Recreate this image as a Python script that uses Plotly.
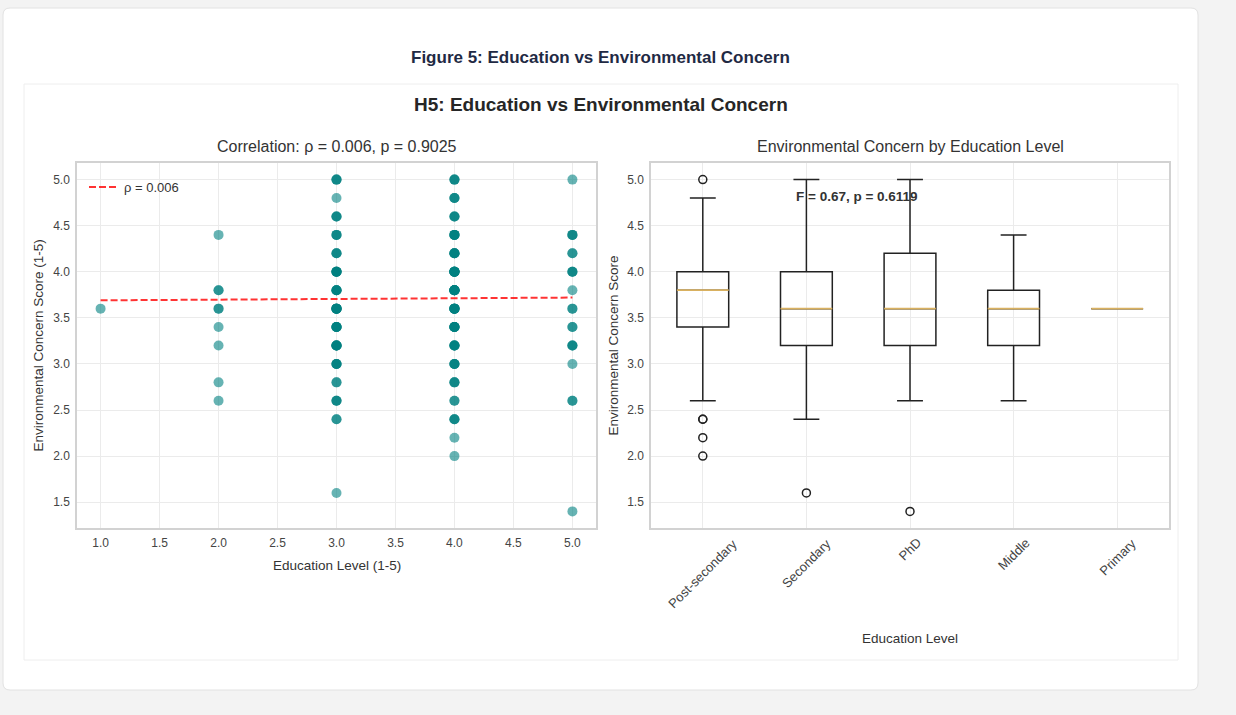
import plotly.graph_objects as go

# ---------------- data ----------------
# Scatter: education level (1-5) vs environmental concern score, with point multiplicity
level_x = [1, 2, 3, 4, 5]
level1_scores = [3.6]
level1_counts = [1]
level2_scores = [4.4, 3.8, 3.6, 3.4, 3.2, 2.8, 2.6]
level2_counts = [1, 2, 2, 1, 1, 1, 1]
level3_scores = [5.0, 4.8, 4.6, 4.4, 4.2, 4.0, 3.8, 3.6, 3.4, 3.2, 3.0, 2.8, 2.6, 2.4, 1.6]
level3_counts = [3, 1, 3, 3, 3, 6, 5, 8, 6, 6, 4, 2, 3, 2, 1]
level4_scores = [5.0, 4.8, 4.6, 4.4, 4.2, 4.0, 3.8, 3.6, 3.4, 3.2, 3.0, 2.8, 2.6, 2.4, 2.2, 2.0]
level4_counts = [3, 3, 3, 5, 5, 9, 10, 8, 7, 5, 4, 3, 2, 3, 1, 1]
level5_scores = [5.0, 4.4, 4.2, 4.0, 3.8, 3.6, 3.4, 3.2, 3.0, 2.6, 1.4]
level5_counts = [1, 3, 2, 3, 1, 2, 2, 3, 1, 2, 1]

# regression (trend) line
trend_x = [1.0, 5.0]
trend_y = [3.69, 3.72]
rho_label = "ρ = 0.006"

# Box plot statistics by education level
box_labels = ["Post-secondary", "Secondary", "PhD", "Middle", "Primary"]
box_pos = [1, 2, 3, 4, 5]
box_q1 = [3.4, 3.2, 3.2, 3.2, 3.6]
box_median = [3.8, 3.6, 3.6, 3.6, 3.6]
box_q3 = [4.0, 4.0, 4.2, 3.8, 3.6]
box_low = [2.6, 2.4, 2.6, 2.6, 3.6]
box_high = [4.8, 5.0, 5.0, 4.4, 3.6]
outlier_pos = [1, 1, 1, 1, 1, 2, 3]
outlier_val = [5.0, 2.4, 2.4, 2.2, 2.0, 1.6, 1.4]

yticks = [1.5, 2.0, 2.5, 3.0, 3.5, 4.0, 4.5, 5.0]
xticks_left = [1.0, 1.5, 2.0, 2.5, 3.0, 3.5, 4.0, 4.5, 5.0]

page_title = "Figure 5: Education vs Environmental Concern"
sup_title = "H5: Education vs Environmental Concern"
left_title = "Correlation: ρ = 0.006, p = 0.9025"
right_title = "Environmental Concern by Education Level"
anova_text = "F = 0.67, p = 0.6119"

# ---------------- layout helpers ----------------
W, H = 1236, 715
FONT = "Liberation Sans, Arial, Helvetica, sans-serif"


def px(x):
    return x / W


def py(y):
    return 1 - y / H


fig = go.Figure()

# scatter points (expanded by multiplicity so alpha accumulates)
all_scores = [level1_scores, level2_scores, level3_scores, level4_scores, level5_scores]
all_counts = [level1_counts, level2_counts, level3_counts, level4_counts, level5_counts]
sx, sy = [], []
for lx, scores, counts in zip(level_x, all_scores, all_counts):
    for s, c in zip(scores, counts):
        for _ in range(c):
            sx.append(lx)
            sy.append(s)

fig.add_trace(go.Scatter(
    x=sx, y=sy, mode="markers", xaxis="x", yaxis="y", showlegend=False,
    marker=dict(color="#008080", size=10, opacity=0.6, line=dict(width=0)),
    hoverinfo="skip"))

fig.add_trace(go.Scatter(
    x=trend_x, y=trend_y, mode="lines", xaxis="x", yaxis="y", name=rho_label,
    line=dict(color="rgba(255,0,0,0.8)", width=2, dash="7px,3px")))

# box plot
fig.add_trace(go.Box(
    x=box_pos, q1=box_q1, median=box_median, q3=box_q3,
    lowerfence=box_low, upperfence=box_high,
    xaxis="x2", yaxis="y2", width=0.5, whiskerwidth=0.5,
    line=dict(color="#222222", width=1.5), fillcolor="rgba(0,0,0,0)",
    boxpoints=False, showlegend=False, hoverinfo="skip"))

# median lines
mx, my = [], []
for p, m in zip(box_pos, box_median):
    mx += [p - 0.25, p + 0.25, None]
    my += [m, m, None]
fig.add_trace(go.Scatter(
    x=mx, y=my, mode="lines", xaxis="x2", yaxis="y2", showlegend=False,
    line=dict(color="#d9b160", width=1.8), hoverinfo="skip"))

# outliers
fig.add_trace(go.Scatter(
    x=outlier_pos, y=outlier_val, mode="markers", xaxis="x2", yaxis="y2",
    showlegend=False, hoverinfo="skip",
    marker=dict(symbol="circle-open", size=8, color="#222222", line=dict(width=1.5, color="#222222"))))

axis_common = dict(
    showgrid=True, gridcolor="#ebebeb", gridwidth=1,
    showline=True, mirror=True, linecolor="#d2d2d2", linewidth=1.5,
    zeroline=False, ticks="outside", ticklen=3, tickcolor="rgba(0,0,0,0)",
    tickfont=dict(family=FONT, size=12, color="#444444"))

fig.update_layout(
    width=W, height=H,
    margin=dict(l=0, r=0, t=0, b=0),
    paper_bgcolor="#f3f3f3", plot_bgcolor="#ffffff",
    font=dict(family=FONT, color="#333333"),
    xaxis=dict(domain=[px(77), px(596)], range=[0.8, 5.2], tickvals=xticks_left,
               ticktext=[f"{v:.1f}" for v in xticks_left], anchor="y", **axis_common),
    yaxis=dict(domain=[py(528), py(163)], range=[1.22, 5.18], tickvals=yticks,
               ticktext=[f"{v:.1f}" for v in yticks], anchor="x", **axis_common),
    xaxis2=dict(domain=[px(651), px(1169)], range=[0.5, 5.5], tickvals=box_pos,
                showticklabels=False, anchor="y2", **axis_common),
    yaxis2=dict(domain=[py(528), py(163)], range=[1.22, 5.18], tickvals=yticks,
                ticktext=[f"{v:.1f}" for v in yticks], anchor="x2", **axis_common),
    legend=dict(x=px(84), y=py(172), xanchor="left", yanchor="top",
                bgcolor="rgba(0,0,0,0)", borderwidth=0,
                font=dict(family=FONT, size=13, color="#333333")),
    showlegend=True,
)


def rounded_rect(x0, y0, x1, y1, r):
    rx, ry = r / W, r / H
    X0, X1 = px(x0), px(x1)
    Y0, Y1 = py(y0), py(y1)  # Y0 top (larger), Y1 bottom
    return (f"M {X0+rx},{Y0} L {X1-rx},{Y0} Q {X1},{Y0} {X1},{Y0-ry} "
            f"L {X1},{Y1+ry} Q {X1},{Y1} {X1-rx},{Y1} "
            f"L {X0+rx},{Y1} Q {X0},{Y1} {X0},{Y1+ry} "
            f"L {X0},{Y0-ry} Q {X0},{Y0} {X0+rx},{Y0} Z")


fig.add_shape(type="path", path=rounded_rect(3, 8, 1198, 690, 7), xref="paper", yref="paper",
              fillcolor="#ffffff", line=dict(color="#e2e2e2", width=1), layer="below")
fig.add_shape(type="rect", x0=px(24), x1=px(1178), y0=py(660), y1=py(84), xref="paper", yref="paper",
              fillcolor="#ffffff", line=dict(color="#eeeeee", width=1), layer="below")

ann = []
ann.append(dict(text=f"<b>{page_title}</b>", x=px(600), y=py(57), xref="paper", yref="paper",
                showarrow=False, font=dict(family=FONT, size=17, color="#1f2a44"),
                xanchor="center", yanchor="middle"))
ann.append(dict(text=f"<b>{sup_title}</b>", x=px(601), y=py(104), xref="paper", yref="paper",
                showarrow=False, font=dict(family=FONT, size=19, color="#262626"),
                xanchor="center", yanchor="middle"))
ann.append(dict(text=left_title, x=px(336.5), y=py(147), xref="paper", yref="paper",
                showarrow=False, font=dict(family=FONT, size=16, color="#333333"),
                xanchor="center", yanchor="middle"))
ann.append(dict(text=right_title, x=px(910), y=py(147), xref="paper", yref="paper",
                showarrow=False, font=dict(family=FONT, size=16, color="#333333"),
                xanchor="center", yanchor="middle"))
ann.append(dict(text="Education Level (1-5)", x=px(336.5), y=py(565), xref="paper", yref="paper",
                showarrow=False, font=dict(family=FONT, size=13.5, color="#333333"),
                xanchor="center", yanchor="middle"))
ann.append(dict(text="Education Level", x=px(910), y=py(638), xref="paper", yref="paper",
                showarrow=False, font=dict(family=FONT, size=13.5, color="#333333"),
                xanchor="center", yanchor="middle"))
ann.append(dict(text="Environmental Concern Score (1-5)", x=px(38), y=py(345.5), xref="paper",
                yref="paper", showarrow=False, textangle=-90,
                font=dict(family=FONT, size=13.5, color="#333333"),
                xanchor="center", yanchor="middle"))
ann.append(dict(text="Environmental Concern Score", x=px(613), y=py(345.5), xref="paper",
                yref="paper", showarrow=False, textangle=-90,
                font=dict(family=FONT, size=13.5, color="#333333"),
                xanchor="center", yanchor="middle"))
ann.append(dict(text=f"<b>{anova_text}</b>", x=px(857), y=py(197), xref="paper", yref="paper",
                showarrow=False, font=dict(family=FONT, size=13.5, color="#333333"),
                xanchor="center", yanchor="middle"))
for p, lab in zip(box_pos, box_labels):
    ann.append(dict(text=lab, x=p, xref="x2", y=py(533), yref="paper", showarrow=False,
                    textangle=-45, xanchor="center", yanchor="top",
                    font=dict(family=FONT, size=13, color="#444444")))
fig.update_layout(annotations=ann)

fig.write_html("out.html", config={"displayModeBar": False},
               post_script="document.body.style.margin='0';")
